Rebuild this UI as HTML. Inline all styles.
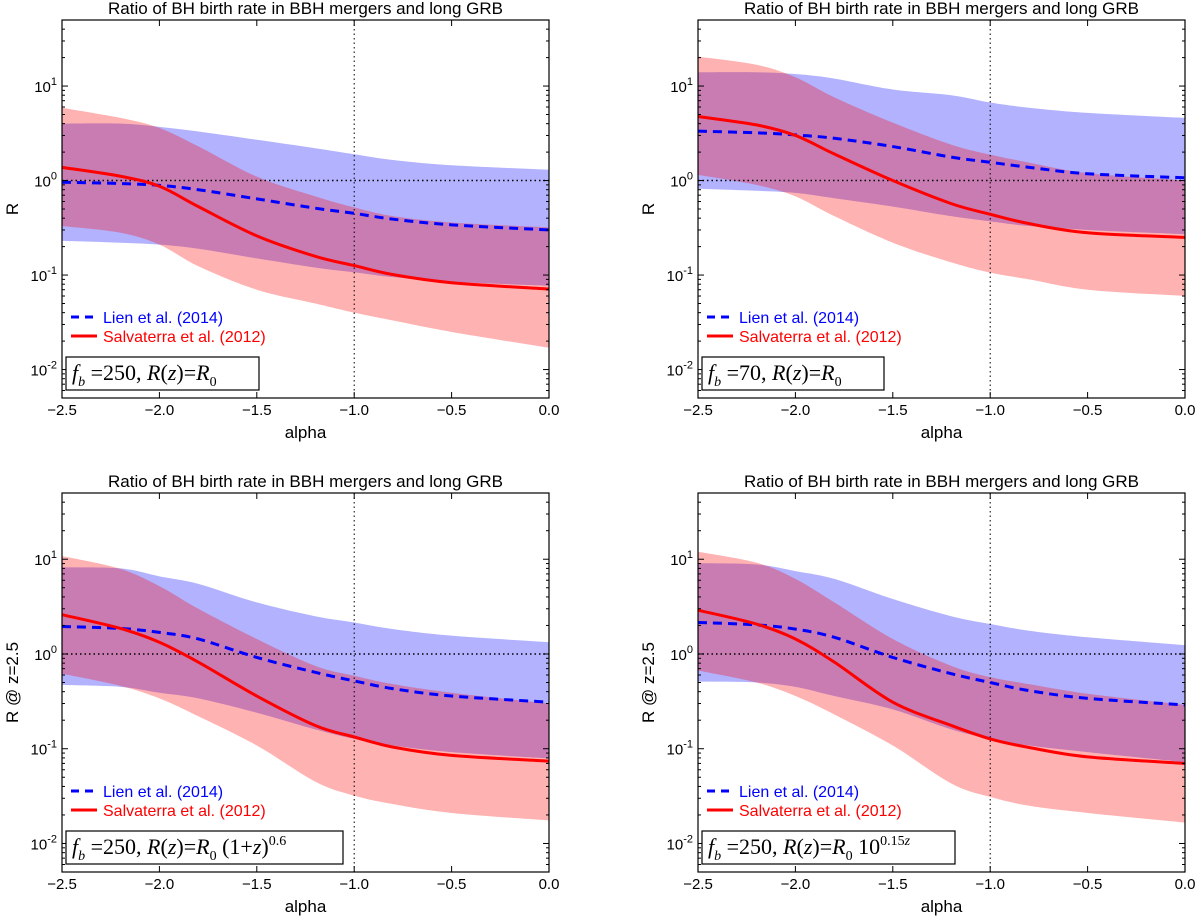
<!DOCTYPE html>
<html><head><meta charset="utf-8"><style>
body{margin:0;background:#fff;}
svg{display:block;font-family:"Liberation Sans",sans-serif;}
</style></head><body>
<svg id="fig" width="1200" height="916" viewBox="0 0 1200 916" xmlns="http://www.w3.org/2000/svg"></svg>
<script>
const alphas = [-2.5,-2.2,-2.0,-1.8,-1.5,-1.2,-1.0,-0.8,-0.5,0.0];
const xTicks = [-2.5,-2.0,-1.5,-1.0,-0.5,0.0];
const xTickLabels = ["\u22122.5","\u22122.0","\u22121.5","\u22121.0","\u22120.5","0.0"];
const yTicks = [-2,-1,0,1];
// Panel 1 (top-left)
const p1BlueLine = [0.96,0.93,0.89,0.8,0.64,0.51,0.45,0.39,0.34,0.30];
const p1BlueUp = [4,4,3.7,3.3,2.7,2.2,1.9,1.65,1.45,1.3];
const p1BlueLo = [0.23,0.22,0.21,0.19,0.15,0.12,0.107,0.095,0.085,0.077];
const p1RedLine = [1.38,1.11,0.87,0.53,0.26,0.158,0.126,0.101,0.083,0.071];
const p1RedUp = [5.9,4.6,3.6,2.3,1.1,0.68,0.52,0.42,0.36,0.32];
const p1RedLo = [0.33,0.28,0.21,0.124,0.07,0.05,0.04,0.033,0.025,0.017];
// Panel 2 (top-right)
const p2BlueLine = [3.33,3.2,3.04,2.8,2.29,1.77,1.56,1.38,1.18,1.07];
const p2BlueUp = [14,14,13.4,12,9.2,8,6.7,5.9,5.2,4.6];
const p2BlueLo = [0.82,0.78,0.74,0.65,0.53,0.42,0.37,0.33,0.3,0.27];
const p2RedLine = [4.76,3.88,3.0,1.91,1.0,0.57,0.44,0.35,0.28,0.25];
const p2RedUp = [20.5,16.8,12.4,7.6,4.1,2.4,1.88,1.55,1.2,1.0];
const p2RedLo = [1.15,0.9,0.68,0.42,0.22,0.136,0.106,0.09,0.07,0.06];
// Panel 3 (bottom-left)
const p3BlueLine = [1.95,1.86,1.69,1.44,0.92,0.64,0.52,0.43,0.36,0.31];
const p3BlueUp = [8.2,8.0,6.6,5.5,3.5,2.5,2.15,1.83,1.56,1.33];
const p3BlueLo = [0.47,0.45,0.39,0.34,0.24,0.16,0.127,0.108,0.092,0.079];
const p3RedLine = [2.6,1.86,1.33,0.82,0.36,0.176,0.133,0.104,0.085,0.074];
const p3RedUp = [10.8,7.9,5.2,3.0,1.44,0.75,0.59,0.48,0.39,0.3];
const p3RedLo = [0.62,0.46,0.34,0.22,0.108,0.045,0.032,0.026,0.021,0.0175];
// Panel 4 (bottom-right)
const p4BlueLine = [2.15,2.03,1.83,1.5,0.92,0.62,0.5,0.41,0.34,0.29];
const p4BlueUp = [9.1,8.8,7.5,6.2,3.8,2.5,2.07,1.76,1.5,1.24];
const p4BlueLo = [0.51,0.5,0.45,0.36,0.26,0.16,0.127,0.108,0.092,0.072];
const p4RedLine = [2.9,2.07,1.44,0.82,0.31,0.176,0.127,0.103,0.082,0.07];
const p4RedUp = [12,9.2,6.2,3.5,1.44,0.75,0.57,0.48,0.38,0.29];
const p4RedLo = [0.67,0.5,0.36,0.23,0.108,0.043,0.031,0.025,0.021,0.0166];

const NS="http://www.w3.org/2000/svg";
const fig=document.getElementById('fig');
function mk(tag,attrs,parent){const e=document.createElementNS(NS,tag);for(const k in attrs)e.setAttribute(k,attrs[k]);(parent||fig).appendChild(e);return e;}
// Catmull-Rom smooth path through points (pixel space)
function smooth(pts,start){
 let d=(start?'M':'L')+pts[0][0]+','+pts[0][1];
 for(let i=0;i<pts.length-1;i++){
  const p0=pts[Math.max(0,i-1)],p1=pts[i],p2=pts[i+1],p3=pts[Math.min(pts.length-1,i+2)];
  const c1=[p1[0]+(p2[0]-p0[0])/6,p1[1]+(p2[1]-p0[1])/6];
  const c2=[p2[0]-(p3[0]-p1[0])/6,p2[1]-(p3[1]-p1[1])/6];
  d+='C'+c1[0]+','+c1[1]+' '+c2[0]+','+c2[1]+' '+p2[0]+','+p2[1];
 }
 return d;
}

const panels=[
 {L:62,T:20,B:398,bl:p1BlueLine,bu:p1BlueUp,bo:p1BlueLo,rl:p1RedLine,ru:p1RedUp,ro:p1RedLo,ylab:"R",box:'<tspan font-style="italic">f</tspan><tspan font-style="italic" font-size="14" dy="6">b</tspan><tspan dy="-6"> =250, </tspan><tspan font-style="italic">R</tspan>(<tspan font-style="italic">z</tspan>)=<tspan font-style="italic">R</tspan><tspan font-size="14" dy="6">0</tspan>',bw:193},
 {L:698,T:20,B:398,bl:p2BlueLine,bu:p2BlueUp,bo:p2BlueLo,rl:p2RedLine,ru:p2RedUp,ro:p2RedLo,ylab:"R",box:'<tspan font-style="italic">f</tspan><tspan font-style="italic" font-size="14" dy="6">b</tspan><tspan dy="-6"> =70, </tspan><tspan font-style="italic">R</tspan>(<tspan font-style="italic">z</tspan>)=<tspan font-style="italic">R</tspan><tspan font-size="14" dy="6">0</tspan>',bw:182},
 {L:62,T:493,B:872,bl:p3BlueLine,bu:p3BlueUp,bo:p3BlueLo,rl:p3RedLine,ru:p3RedUp,ro:p3RedLo,ylab:"R @ z=2.5",box:'<tspan font-style="italic">f</tspan><tspan font-style="italic" font-size="14" dy="6">b</tspan><tspan dy="-6"> =250, </tspan><tspan font-style="italic">R</tspan>(<tspan font-style="italic">z</tspan>)=<tspan font-style="italic">R</tspan><tspan font-size="14" dy="6">0</tspan><tspan dy="-6"> (1+</tspan><tspan font-style="italic">z</tspan>)<tspan font-size="14" dy="-9">0.6</tspan>',bw:277},
 {L:698,T:493,B:872,bl:p4BlueLine,bu:p4BlueUp,bo:p4BlueLo,rl:p4RedLine,ru:p4RedUp,ro:p4RedLo,ylab:"R @ z=2.5",box:'<tspan font-style="italic">f</tspan><tspan font-style="italic" font-size="14" dy="6">b</tspan><tspan dy="-6"> =250, </tspan><tspan font-style="italic">R</tspan>(<tspan font-style="italic">z</tspan>)=<tspan font-style="italic">R</tspan><tspan font-size="14" dy="6">0</tspan><tspan dy="-6"> 10</tspan><tspan font-size="14" dy="-9">0.15</tspan><tspan font-size="14" font-style="italic">z</tspan>',bw:253}
];

panels.forEach((p,i)=>{
 const W=487,R=p.L+W;
 const g=mk('g',{});
 
 
 const xs=v=>p.L+(v+2.5)/2.5*W;
 const lmin=Math.log10(0.005),lmax=Math.log10(50);
 const ys=v=>p.B-(Math.log10(v)-lmin)/(lmax-lmin)*(p.B-p.T);
 const clip=mk('clipPath',{id:'clip'+i},g);mk('rect',{x:p.L,y:p.T,width:W,height:p.B-p.T},clip);
 const band=(up,lo,col,name)=>{
  const upPts=alphas.map((a,k)=>[xs(a),ys(up[k])]);
  const loPts=alphas.map((a,k)=>[xs(a),ys(lo[k])]).reverse();
  const d=smooth(upPts,true)+smooth(loPts,false)+'Z';
  const e=mk('path',{d:d,fill:col,'fill-opacity':0.3,stroke:'none','clip-path':'url(#clip'+i+')'},g);
  
  
 };
 band(p.bu,p.bo,'#0000ff','lien-band');
 band(p.ru,p.ro,'#ff0000','salvaterra-band');
 const h=mk('line',{x1:p.L,x2:R,y1:ys(1),y2:ys(1),stroke:'#000','stroke-width':1.5,'stroke-dasharray':'1.5,3'},g);
 
 
 const v=mk('line',{x1:xs(-1),x2:xs(-1),y1:p.T,y2:p.B,stroke:'#000','stroke-width':1,'stroke-dasharray':'1.5,3'},g);
 
 
 const bl=mk('path',{d:smooth(alphas.map((a,k)=>[xs(a),ys(p.bl[k])]),true),fill:'none',stroke:'#0000ff','stroke-width':3,'stroke-dasharray':'9,6'},g);
 
 
 const rl=mk('path',{d:smooth(alphas.map((a,k)=>[xs(a),ys(p.rl[k])]),true),fill:'none',stroke:'#ff0000','stroke-width':3},g);
 
 
 const fr=mk('rect',{x:p.L,y:p.T,width:W,height:p.B-p.T,fill:'none',stroke:'#000','stroke-width':1.2},g);
 
 
 xTicks.forEach((t,k)=>{
  const x=xs(t);
  mk('line',{x1:x,x2:x,y1:p.B,y2:p.B-6,stroke:'#000'},g);
  mk('line',{x1:x,x2:x,y1:p.T,y2:p.T+6,stroke:'#000'},g);
  const tx=mk('text',{x:x,y:p.B+17,'text-anchor':'middle','font-size':15},g);
  tx.textContent=xTickLabels[k];
  
  
 });
 for(let d=-3;d<=1;d++){
  for(let m=1;m<10;m++){
   const val=m*Math.pow(10,d);
   if(val<0.005||val>50)continue;
   const y=ys(val),len=m===1?6:3;
   mk('line',{x1:p.L,x2:p.L+len,y1:y,y2:y,stroke:'#000'},g);
   mk('line',{x1:R,x2:R-len,y1:y,y2:y,stroke:'#000'},g);
  }
 }
 yTicks.forEach(e=>{
  const y=ys(Math.pow(10,e));
  const tx=mk('text',{x:p.L-5,y:y+6,'text-anchor':'end','font-size':15},g);
  tx.innerHTML='10<tspan font-size="11" dy="-7">'+e+'</tspan>';
  
  
 });
 const ti=mk('text',{x:p.L+W/2,y:p.T-6,'text-anchor':'middle','font-size':17},g);
 ti.textContent='Ratio of BH birth rate in BBH mergers and long GRB';
 
 
 const xl=mk('text',{x:p.L+W/2,y:p.B+40,'text-anchor':'middle','font-size':17},g);
 xl.textContent='alpha';
 
 
 const yx=p.L-44,yy=(p.T+p.B)/2;
 const yl=mk('text',{x:yx,y:yy,'text-anchor':'middle','font-size':17,transform:'rotate(-90 '+yx+' '+yy+')'},g);
 yl.textContent=p.ylab;
 
 
 const lg=mk('g',{},g);
 
 
 const ly1=p.B-81,ly2=p.B-62;
 mk('line',{x1:p.L+9,x2:p.L+35,y1:ly1,y2:ly1,stroke:'#0000ff','stroke-width':3,'stroke-dasharray':'8,6'},lg);
 const t1=mk('text',{x:p.L+41,y:ly1+6,'font-size':16,fill:'#0000ff'},lg);t1.textContent='Lien et al. (2014)';
 mk('line',{x1:p.L+9,x2:p.L+35,y1:ly2,y2:ly2,stroke:'#ff0000','stroke-width':3},lg);
 const t2=mk('text',{x:p.L+41,y:ly2+6,'font-size':16,fill:'#ff0000'},lg);t2.textContent='Salvaterra et al. (2012)';
 const bx=mk('g',{},g);
 
 
 mk('rect',{x:p.L+4,y:p.B-41,width:p.bw,height:33,fill:'#fff',stroke:'#000','stroke-width':1.2},bx);
 const bt=mk('text',{x:p.L+10,y:p.B-18,'font-size':22,'font-family':'"Liberation Serif",serif'},bx);
 bt.innerHTML=p.box;
});
</script>
</body></html>
